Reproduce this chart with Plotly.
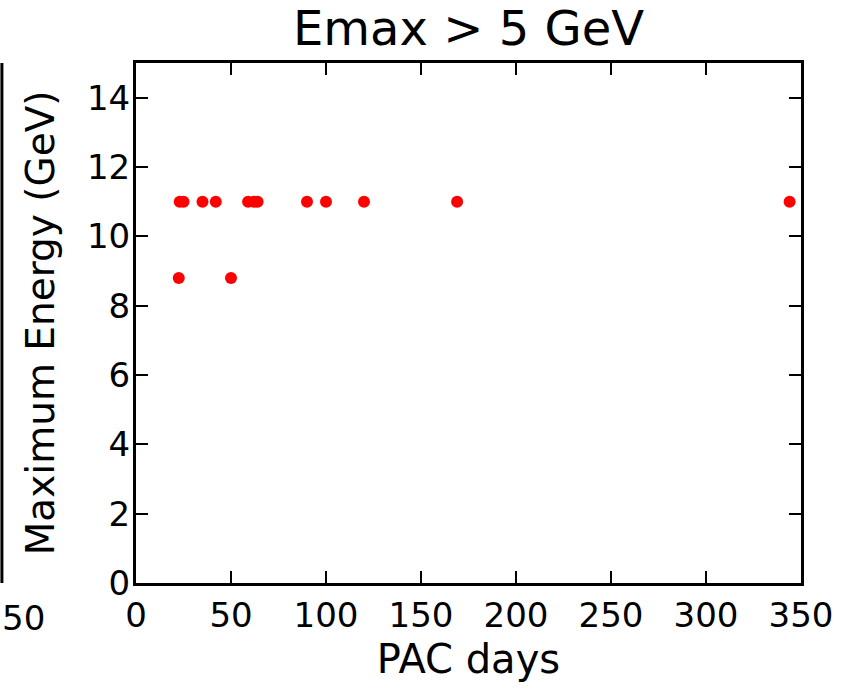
import plotly.graph_objects as go

# PAC days vs maximum beam energy for experiments with Emax > 5 GeV
pac_days = [22.5, 23, 25, 35, 42, 50, 59, 62, 64, 90, 100, 120, 169, 344]
max_energy = [8.8, 11, 11, 11, 11, 8.8, 11, 11, 11, 11, 11, 11, 11, 11]

x_ticks = [0, 50, 100, 150, 200, 250, 300, 350]
y_ticks = [0, 2, 4, 6, 8, 10, 12, 14]

font = "DejaVu Sans"

fig = go.Figure()
fig.add_trace(go.Scatter(x=pac_days, y=max_energy,
                         mode='markers',
                         marker={"color": "red", "size": 12, "line": {"width": 0}},
                         hoverinfo='none'))

axis_style = dict(showgrid=False, zeroline=False, showline=True,
                  linecolor='black', linewidth=3, mirror='allticks',
                  ticks='inside', ticklen=12, tickwidth=1.5, tickcolor='black',
                  tickfont={"family": font, "size": 34, "color": "black"})

fig.update_layout(
    width=845, height=691,
    margin=dict(l=136, r=42, t=63, b=108),
    plot_bgcolor='white', paper_bgcolor='white',
    showlegend=False,
    title={"text": "Emax > 5 GeV", "x": 0.5, "xref": "paper", "xanchor": "center",
           "y": 1, "yref": "paper", "yanchor": "bottom", "pad": {"b": 18},
           "font": {"family": font, "size": 48, "color": "black"}},
    xaxis=dict(range=[0, 350], tickvals=x_ticks,
               title={"text": "PAC days", "standoff": 12,
                      "font": {"family": font, "size": 40, "color": "black"}},
               **axis_style),
    yaxis=dict(range=[0, 15], tickvals=y_ticks, ticklabelstandoff=-4,
               **axis_style),
)

# y axis title placed by hand, it sits closer to the edge than plotly puts it
fig.add_annotation(text="Maximum Energy (GeV)", textangle=-90,
                   xref="paper", yref="paper", x=-96 / 667, y=0.5,
                   xanchor="center", yanchor="middle", showarrow=False,
                   font={"family": font, "size": 39, "color": "black"})

# remnants of the neighbouring panel cut off at the left edge
fig.add_shape(type="line", xref="paper", yref="paper",
              x0=-134.5 / 667, x1=-134.5 / 667, y0=0, y1=1,
              line={"color": "black", "width": 3})
fig.add_annotation(text="50", xref="paper", yref="paper",
                   x=-136 / 667, y=-13 / 520, xanchor="left", yanchor="top",
                   showarrow=False,
                   font={"family": font, "size": 34, "color": "black"})

fig.write_html("out.html", config={"displayModeBar": False},
               post_script="document.body.style.margin = '0';")
